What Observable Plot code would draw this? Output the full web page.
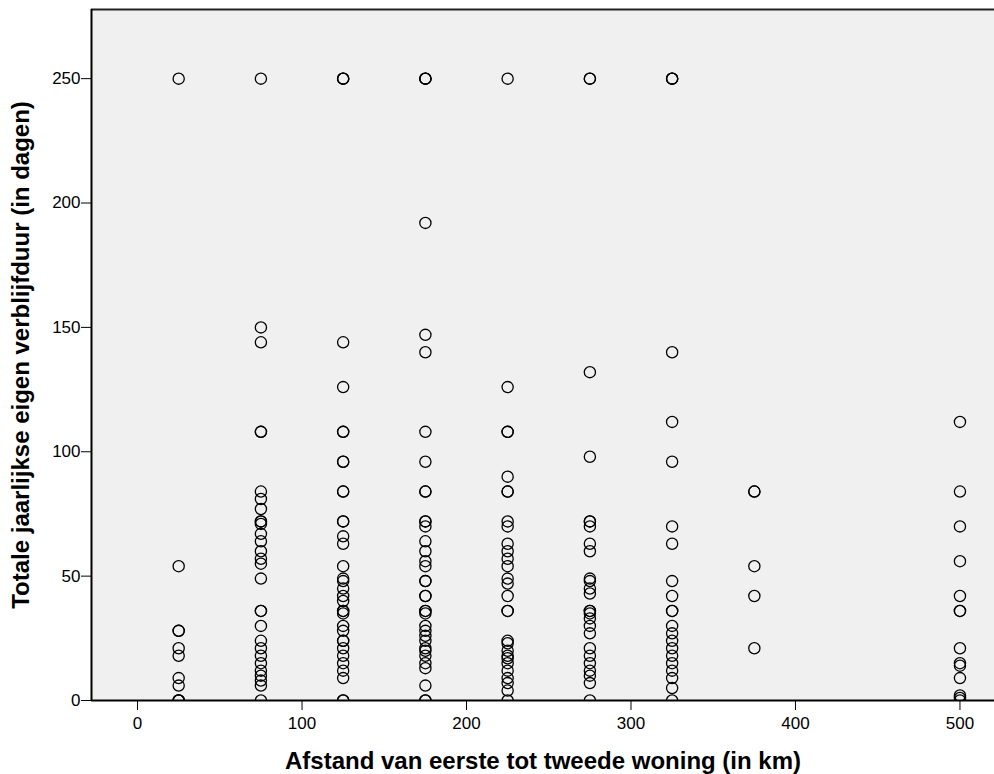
<!DOCTYPE html>
<html>
<head>
<meta charset="utf-8">
<script src="https://cdn.jsdelivr.net/npm/d3@7"></script>
<script src="https://cdn.jsdelivr.net/npm/@observablehq/plot@0.6"></script>
<style>
  html, body { margin: 0; padding: 0; background: #ffffff; }
  #chart svg { display: block; }
</style>
</head>
<body>
<div id="chart"></div>
<script>
// Distance classes (km) and the yearly stay (days) observed in each class
const distances = [25, 75, 125, 175, 225, 275, 325, 375, 500];
const days25  = [250, 54, 28, 28, 21, 18, 9, 6, 0, 0, 0];
const days75  = [250, 150, 144, 108, 108, 84, 81, 77, 72, 72, 71, 67, 64, 60, 57, 55, 49, 36, 36, 30, 24, 21, 18, 15, 12, 10, 8, 6, 0];
const days125 = [250, 250, 250, 144, 126, 108, 108, 96, 96, 84, 84, 72, 72, 66, 63, 54, 49, 48, 45, 42, 40, 36, 36, 35, 30, 28, 24, 24, 21, 18, 15, 12, 9, 0, 0];
const days175 = [250, 250, 250, 192, 147, 140, 108, 96, 84, 84, 72, 72, 70, 64, 60, 56, 54, 48, 48, 42, 42, 36, 36, 35, 30, 28, 26, 24, 21, 20, 18, 15, 13, 6, 0, 0];
const days225 = [250, 126, 108, 108, 90, 84, 84, 72, 70, 63, 60, 57, 54, 49, 47, 42, 36, 36, 24, 23, 20, 18, 17, 15, 12, 9, 7, 4, 0];
const days275 = [250, 250, 132, 98, 72, 72, 70, 63, 60, 49, 48, 45, 43, 36, 36, 35, 33, 30, 27, 21, 18, 15, 12, 10, 7, 0];
const days325 = [250, 250, 250, 140, 112, 96, 70, 63, 48, 42, 36, 36, 30, 27, 24, 21, 18, 15, 12, 9, 5, 0];
const days375 = [84, 84, 54, 42, 21];
const days500 = [112, 84, 70, 56, 42, 36, 36, 21, 15, 14, 9, 2, 1, 0];

const xTicks = [0, 100, 200, 300, 400, 500];
const yTicks = [0, 50, 100, 150, 200, 250];
const xDomain = [-28, 521];
const yDomain = [0, 277.8];
const xTitle = "Afstand van eerste tot tweede woning (in km)";
const yTitle = "Totale jaarlijkse eigen verblijfduur (in dagen)";

const columns = [days25, days75, days125, days175, days225, days275, days325, days375, days500];
const data = columns.flatMap((vals, i) => vals.map(v => ({afstand: distances[i], dagen: v})));

const chart = Plot.plot({
  width: 994,
  height: 774,
  marginLeft: 91,
  marginRight: 0,
  marginTop: 9,
  marginBottom: 74,
  style: {fontFamily: "'Liberation Sans', Arial, sans-serif", fontSize: "17px", color: "#000", background: "#ffffff"},
  x: {domain: xDomain, ticks: xTicks, tickSize: 10, tickPadding: 6, label: null},
  y: {domain: yDomain, ticks: yTicks, tickSize: 10, tickPadding: 1, label: null},
  marks: [
    Plot.frame({fill: "#f0f0f0", stroke: null}),
    Plot.dot(data, {x: "afstand", y: "dagen", r: 5.6, stroke: "#000", strokeWidth: 1.3, fill: "none", clip: true}),
    Plot.ruleY([yDomain[0]], {stroke: "#000", strokeWidth: 2}),
    Plot.ruleY([yDomain[1]], {stroke: "#222", strokeWidth: 2}),
    Plot.ruleX([xDomain[0]], {stroke: "#000", strokeWidth: 2}),
    Plot.text([xTitle], {text: d => d, frameAnchor: "bottom", textAnchor: "middle", lineAnchor: "middle", dy: 61, fontSize: 24, fontWeight: "bold", fill: "#000"}),
    Plot.text([yTitle], {text: d => d, frameAnchor: "left", textAnchor: "middle", lineAnchor: "middle", rotate: -90, dx: -70, fontSize: 24, fontWeight: "bold", fill: "#000"})
  ]
});
document.getElementById("chart").appendChild(chart);
</script>
</body>
</html>
